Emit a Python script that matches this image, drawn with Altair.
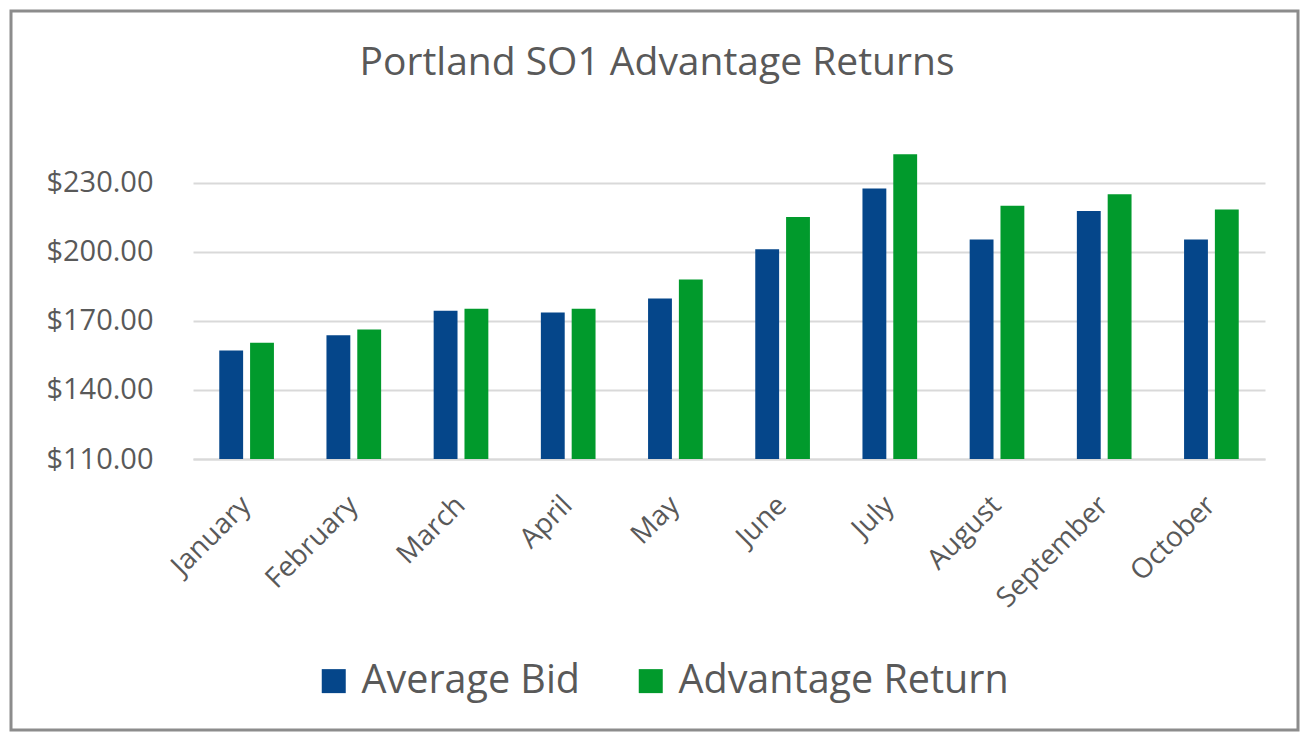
import altair as alt
import pandas as pd

title_text = "Portland SO1 Advantage Returns"
months = ["January", "February", "March", "April", "May", "June",
          "July", "August", "September", "October"]
series = ["Average Bid", "Advantage Return"]
avg_bid = [157.1, 163.7, 174.3, 173.6, 179.7, 201.1, 227.4, 205.3, 217.6, 205.3]
adv_ret = [160.5, 166.2, 175.2, 175.2, 187.9, 215.1, 242.3, 219.9, 224.9, 218.3]
y_ticks = [110, 140, 170, 200, 230]

rows = []
for m, a, r in zip(months, avg_bid, adv_ret):
    rows.append({"Month": m, "Series": series[0], "Value": a})
    rows.append({"Month": m, "Series": series[1], "Value": r})
df = pd.DataFrame(rows)
one = pd.DataFrame({"t": [title_text]})

TEXT = "#595959"
GRID = "#d9d9d9"
FONT = "Open Sans"

W, H = 1072, 311
PL, PT = 185, 140
PR = 1293 - PL - W
PB = 724 - PT - H

bars = alt.Chart(df).mark_bar(clip=True).encode(
    x=alt.X("Month:N", sort=months,
            scale=alt.Scale(paddingInner=0.49, paddingOuter=0.245),
            axis=alt.Axis(title=None, labelAngle=-45, labelFontSize=28,
                          labelColor=TEXT, labelFont=FONT, ticks=False,
                          domain=True, domainColor=GRID, domainWidth=2,
                          labelPadding=32, labelOffset=-10)),
    xOffset=alt.XOffset("Series:N", sort=series,
                        scale=alt.Scale(paddingInner=0.226)),
    y=alt.Y("Value:Q",
            scale=alt.Scale(domain=[110, 245], zero=False, nice=False),
            axis=alt.Axis(title=None, values=y_ticks, format="$,.2f",
                          labelFontSize=29, labelColor=TEXT, labelFont=FONT,
                          ticks=False, domain=False, grid=True,
                          gridColor=GRID, gridWidth=2, labelPadding=40)),
    color=alt.Color("Series:N", sort=series,
                    scale=alt.Scale(domain=series, range=["#05468A", "#019A2C"]),
                    legend=alt.Legend(title=None, orient="none", legendX=121,
                                      legendY=513, direction="horizontal",
                                      symbolType="square", symbolSize=576,
                                      symbolStrokeWidth=0, labelFontSize=39.5,
                                      labelColor=TEXT, labelFont=FONT,
                                      labelOffset=8, columnPadding=50,
                                      labelLimit=600)),
)

frame = alt.Chart(one).mark_rect(fill=None, stroke="#8c8c8c", strokeWidth=3).encode(
    x=alt.value(-182), x2=alt.value(1105), y=alt.value(-137), y2=alt.value(582)
)

title = alt.Chart(one).mark_text(
    fontSize=39, font=FONT, color=TEXT, align="center", baseline="alphabetic"
).encode(text="t:N", x=alt.value(W / 2 - 72), y=alt.value(-73))

chart = alt.layer(frame, title, bars).properties(
    width=W, height=H,
    autosize=alt.AutoSizeParams(type="none"),
    padding={"left": PL, "top": PT, "right": PR, "bottom": PB},
).configure(font=FONT, background="white").configure_view(stroke=None)

chart.save("out.html", embed_options={"renderer": "svg", "actions": False})
